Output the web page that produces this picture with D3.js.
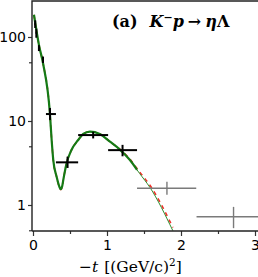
<!DOCTYPE html>
<html>
<head>
<meta charset="utf-8">
<script src="https://cdn.jsdelivr.net/npm/d3@7"></script>
<style>
  body { margin: 0; background: #fff; }
  svg { display: block; }
  .tick text { font-family: "DejaVu Sans", sans-serif; }
</style>
</head>
<body>
<div id="chart"></div>
<script>
// fitted data (black) and extra data (gray)
const fitT    = [0.03, 0.045, 0.08, 0.135, 0.23, 0.467, 0.813, 1.21];
const fitV    = [143, 112, 74, 53.7, 12.1, 3.22, 6.8, 4.5];
const fitTlo  = [0.02, 0.035, 0.07, 0.125, 0.175, 0.31, 0.61, 1.015];
const fitThi  = [0.04, 0.055, 0.09, 0.145, 0.31, 0.61, 1.015, 1.406];
const fitVlo  = [128, 98, 68, 49, 10.3, 2.76, 6.2, 3.8];
const fitVhi  = [158, 126, 80, 58.5, 14.3, 3.76, 7.45, 5.2];

const extT    = [1.81, 2.71];
const extV    = [1.58, 0.726];
const extTlo  = [1.406, 2.21];
const extThi  = [2.206, 3.2];
const extVlo  = [1.32, 0.53];
const extVhi  = [1.89, 0.95];

// model curves
const curveT  = [0.013, 0.081, 0.135, 0.229, 0.252, 0.274, 0.319, 0.36, 0.377, 0.395, 0.409, 0.454, 0.52, 0.61, 0.678, 0.77, 0.903, 1.04, 1.17, 1.31, 1.406, 1.44, 1.58, 1.89];
const greenV  = [184, 80, 49, 12.1, 5.94, 3.43, 2.17, 1.62, 1.54, 1.68, 1.98, 3.14, 4.52, 5.94, 7.0, 7.46, 7.0, 5.67, 4.6, 3.43, 2.62, 2.38, 1.62, 0.494];
const redV    = [184, 80, 49, 12.1, 5.94, 3.43, 2.17, 1.60, 1.52, 1.66, 1.98, 3.14, 4.52, 5.94, 7.0, 7.46, 7.0, 5.67, 4.65, 3.52, 2.72, 2.48, 1.72, 0.54];

const xTicks = [0, 1, 2, 3];
const xMinor = [0.5, 1.5, 2.5];
const yTicks = [1, 10, 100];
const yMinor = [0.5, 5, 50];
const fitMax = 1.406;

const W = 258, H = 277;
const mLeft = 32, mTop = 1, mBottom = 231;

const svg = d3.select("#chart").append("svg")
    .attr("width", W)
    .attr("height", H);

const x = d3.scaleLinear().domain([0, 3]).range([33, 255]);
const y = d3.scaleLog().domain([1, 100]).range([205, 37]);

svg.append("defs").append("clipPath").attr("id", "clip")
  .append("rect")
    .attr("x", mLeft).attr("y", mTop)
    .attr("width", W - mLeft).attr("height", mBottom - mTop);

const plot = svg.append("g").attr("clip-path", "url(#clip)");

// curves
const line = d3.line()
    .x(d => x(d[0]))
    .y(d => y(d[1]))
    .curve(d3.curveMonotoneX);

const redPts = curveT.map((t, i) => [t, redV[i]]);
const greenPts = curveT.map((t, i) => [t, greenV[i]]);

plot.append("path")
    .attr("d", line(redPts))
    .attr("fill", "none")
    .attr("stroke", "#f0302a")
    .attr("stroke-width", 1.6)
    .attr("stroke-dasharray", "4,4");

plot.append("path")
    .attr("d", line(greenPts.filter(d => d[0] <= fitMax)))
    .attr("fill", "none")
    .attr("stroke", "#157a15")
    .attr("stroke-width", 2.2);

plot.append("path")
    .attr("d", line(greenPts.filter(d => d[0] >= fitMax)))
    .attr("fill", "none")
    .attr("stroke", "#2f8f2f")
    .attr("stroke-width", 1);

// error-bar crosses
function crosses(ts, vs, tlo, thi, vlo, vhi, color, w) {
  const g = plot.append("g").attr("stroke", color).attr("stroke-width", w);
  ts.forEach((t, i) => {
    g.append("line")
      .attr("x1", x(tlo[i])).attr("x2", x(thi[i]))
      .attr("y1", y(vs[i])).attr("y2", y(vs[i]));
    g.append("line")
      .attr("x1", x(t)).attr("x2", x(t))
      .attr("y1", y(vlo[i])).attr("y2", y(vhi[i]));
  });
}
crosses(extT, extV, extTlo, extThi, extVlo, extVhi, "#7a7a7a", 1.4);
crosses(fitT, fitV, fitTlo, fitThi, fitVlo, fitVhi, "#000", 2);

// axes
svg.append("g")
    .attr("transform", `translate(0,${mBottom})`)
    .call(d3.axisBottom(x).tickValues(xTicks).tickFormat(d3.format("d")).tickSizeOuter(0).tickSize(5).tickPadding(4));
svg.append("g")
    .attr("transform", `translate(0,${mBottom})`)
    .call(d3.axisBottom(x).tickValues(xMinor).tickFormat("").tickSizeOuter(0).tickSize(3));

svg.append("g")
    .attr("transform", `translate(${mLeft},0)`)
    .call(d3.axisLeft(y).tickValues(yTicks).tickFormat(d3.format("d")).tickSizeOuter(0).tickSize(4).tickPadding(2));
svg.append("g")
    .attr("transform", `translate(${mLeft},0)`)
    .call(d3.axisLeft(y).tickValues(yMinor).tickFormat("").tickSizeOuter(0).tickSize(3));

svg.selectAll(".domain").remove();
svg.selectAll(".tick line").attr("stroke", "#333").attr("stroke-width", 1.2);
svg.selectAll(".tick text").attr("font-size", 14).attr("fill", "#000");

// frame
svg.append("path")
    .attr("d", `M${mLeft},${mBottom}V${mTop}H${W}M${mLeft},${mBottom}H${W}`)
    .attr("fill", "none")
    .attr("stroke", "#222")
    .attr("stroke-width", 1.4);

// title
const title = svg.append("text")
    .attr("x", 112).attr("y", 27)
    .attr("font-family", "'DejaVu Serif', serif")
    .attr("font-size", 16)
    .attr("font-weight", "bold");
title.append("tspan").text("(a)");
title.append("tspan").attr("dx", 12).attr("font-style", "italic").text("K");
title.append("tspan").attr("font-style", "italic").attr("dy", -6).attr("font-size", 11).text("−");
title.append("tspan").attr("font-style", "italic").attr("dy", 6).text("p");
title.append("tspan").attr("dx", 4).text("→");
title.append("tspan").attr("dx", 4).attr("font-style", "italic").text("η");
title.append("tspan").text("Λ");

// x label
const xl = svg.append("text")
    .attr("x", 79).attr("y", 272)
    .attr("font-family", "'DejaVu Serif', serif")
    .attr("font-size", 15.5);
xl.append("tspan").text("−");
xl.append("tspan").attr("font-style", "italic").text("t");
xl.append("tspan").attr("dx", 6).text("[(GeV/c)");
xl.append("tspan").attr("dy", -6).attr("font-size", 10.5).text("2");
xl.append("tspan").attr("dy", 6).text("]");
</script>
</body>
</html>
